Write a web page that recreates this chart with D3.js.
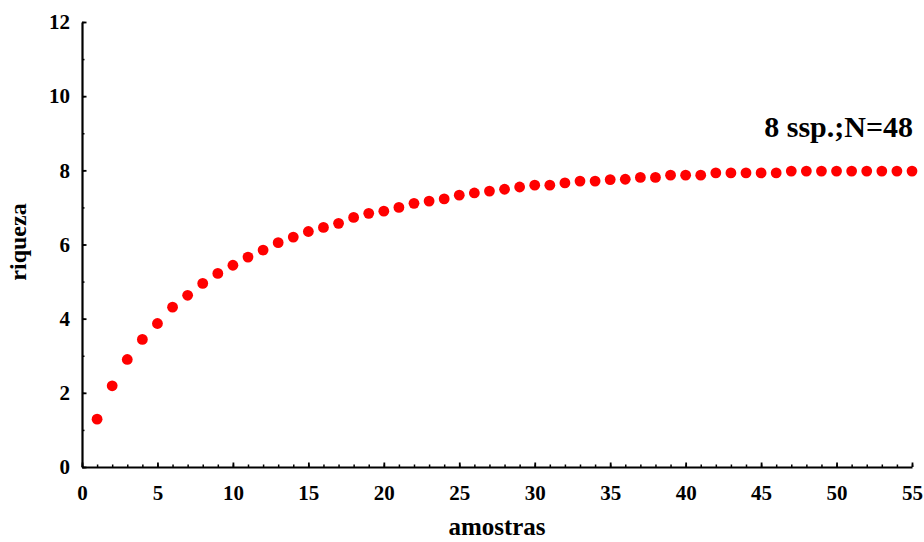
<!DOCTYPE html>
<html>
<head>
<meta charset="utf-8">
<script src="https://cdn.jsdelivr.net/npm/d3@7"></script>
<style>
  html, body { margin: 0; padding: 0; background: #fff; }
  svg { display: block; }
  text { font-family: "Liberation Serif", "Times New Roman", serif; font-weight: bold; fill: #000; }
</style>
</head>
<body>
<svg id="chart" width="924" height="542"></svg>
<script>
// Species accumulation: mean richness by number of samples
const samples = d3.range(1, 56);
const richness = [
  1.29, 2.19, 2.90, 3.44, 3.87, 4.31, 4.63, 4.95, 5.22, 5.44,
  5.66, 5.85, 6.05, 6.20, 6.35, 6.46, 6.57, 6.73, 6.84, 6.90,
  7.00, 7.11, 7.17, 7.23, 7.33, 7.39, 7.44, 7.49, 7.55, 7.60,
  7.60, 7.66, 7.71, 7.71, 7.75, 7.76, 7.81, 7.81, 7.87, 7.87,
  7.87, 7.93, 7.93, 7.93, 7.93, 7.93, 7.98, 7.98, 7.98, 7.98,
  7.98, 7.98, 7.98, 7.98, 7.98
];
const xMajorTicks = [0, 5, 10, 15, 20, 25, 30, 35, 40, 45, 50, 55];
const yMajorTicks = [0, 2, 4, 6, 8, 10, 12];
const xTitle = "amostras";
const yTitle = "riqueza";
const annotation = "8 ssp.;N=48";

const svg = d3.select("#chart");
const x = d3.scaleLinear().domain([0, 55]).range([82, 912]);
const y = d3.scaleLinear().domain([0, 12]).range([467, 22]);

// minor ticks (every unit), pointing inward
svg.append("g")
  .attr("transform", `translate(0,${y(0)})`)
  .call(d3.axisBottom(x).tickValues(d3.range(0, 56)).tickSize(-2.5).tickSizeOuter(0).tickFormat(""))
  .call(g => g.select(".domain").remove())
  .call(g => g.selectAll("line").attr("stroke-width", 1.5));
svg.append("g")
  .attr("transform", `translate(${x(0)},0)`)
  .call(d3.axisLeft(y).tickValues(d3.range(0, 13)).tickSize(-2.5).tickSizeOuter(0).tickFormat(""))
  .call(g => g.select(".domain").remove())
  .call(g => g.selectAll("line").attr("stroke-width", 1.5));

// major ticks with labels
const xAxis = svg.append("g")
  .attr("transform", `translate(0,${y(0)})`)
  .call(d3.axisBottom(x).tickValues(xMajorTicks).tickSize(-4.5).tickSizeOuter(0).tickPadding(18));
xAxis.select(".domain").attr("stroke-width", 2.2);
xAxis.selectAll("line").attr("stroke-width", 1.8);
xAxis.selectAll("text").style("font-size", "21px").attr("font-family", null);

const yAxis = svg.append("g")
  .attr("transform", `translate(${x(0)},0)`)
  .call(d3.axisLeft(y).tickValues(yMajorTicks).tickSize(-4.5).tickSizeOuter(0).tickPadding(12));
yAxis.select(".domain").attr("stroke-width", 2.2);
yAxis.selectAll("line").attr("stroke-width", 1.8);
yAxis.selectAll("text").style("font-size", "21px").attr("font-family", null);

// axis titles
svg.append("text")
  .attr("x", 497).attr("y", 535)
  .attr("text-anchor", "middle")
  .style("font-size", "25px")
  .text(xTitle);
svg.append("text")
  .attr("transform", "translate(26,242) rotate(-90)")
  .attr("text-anchor", "middle")
  .style("font-size", "24px")
  .text(yTitle);

// annotation
svg.append("text")
  .attr("x", 913).attr("y", 137)
  .attr("text-anchor", "end")
  .style("font-size", "30px")
  .text(annotation);

// points
svg.append("g")
  .selectAll("circle")
  .data(samples.map((s, i) => ({ s, r: richness[i] })))
  .join("circle")
  .attr("cx", d => x(d.s))
  .attr("cy", d => y(d.r))
  .attr("r", 5.4)
  .attr("fill", "#ff0000");
</script>
</body>
</html>
